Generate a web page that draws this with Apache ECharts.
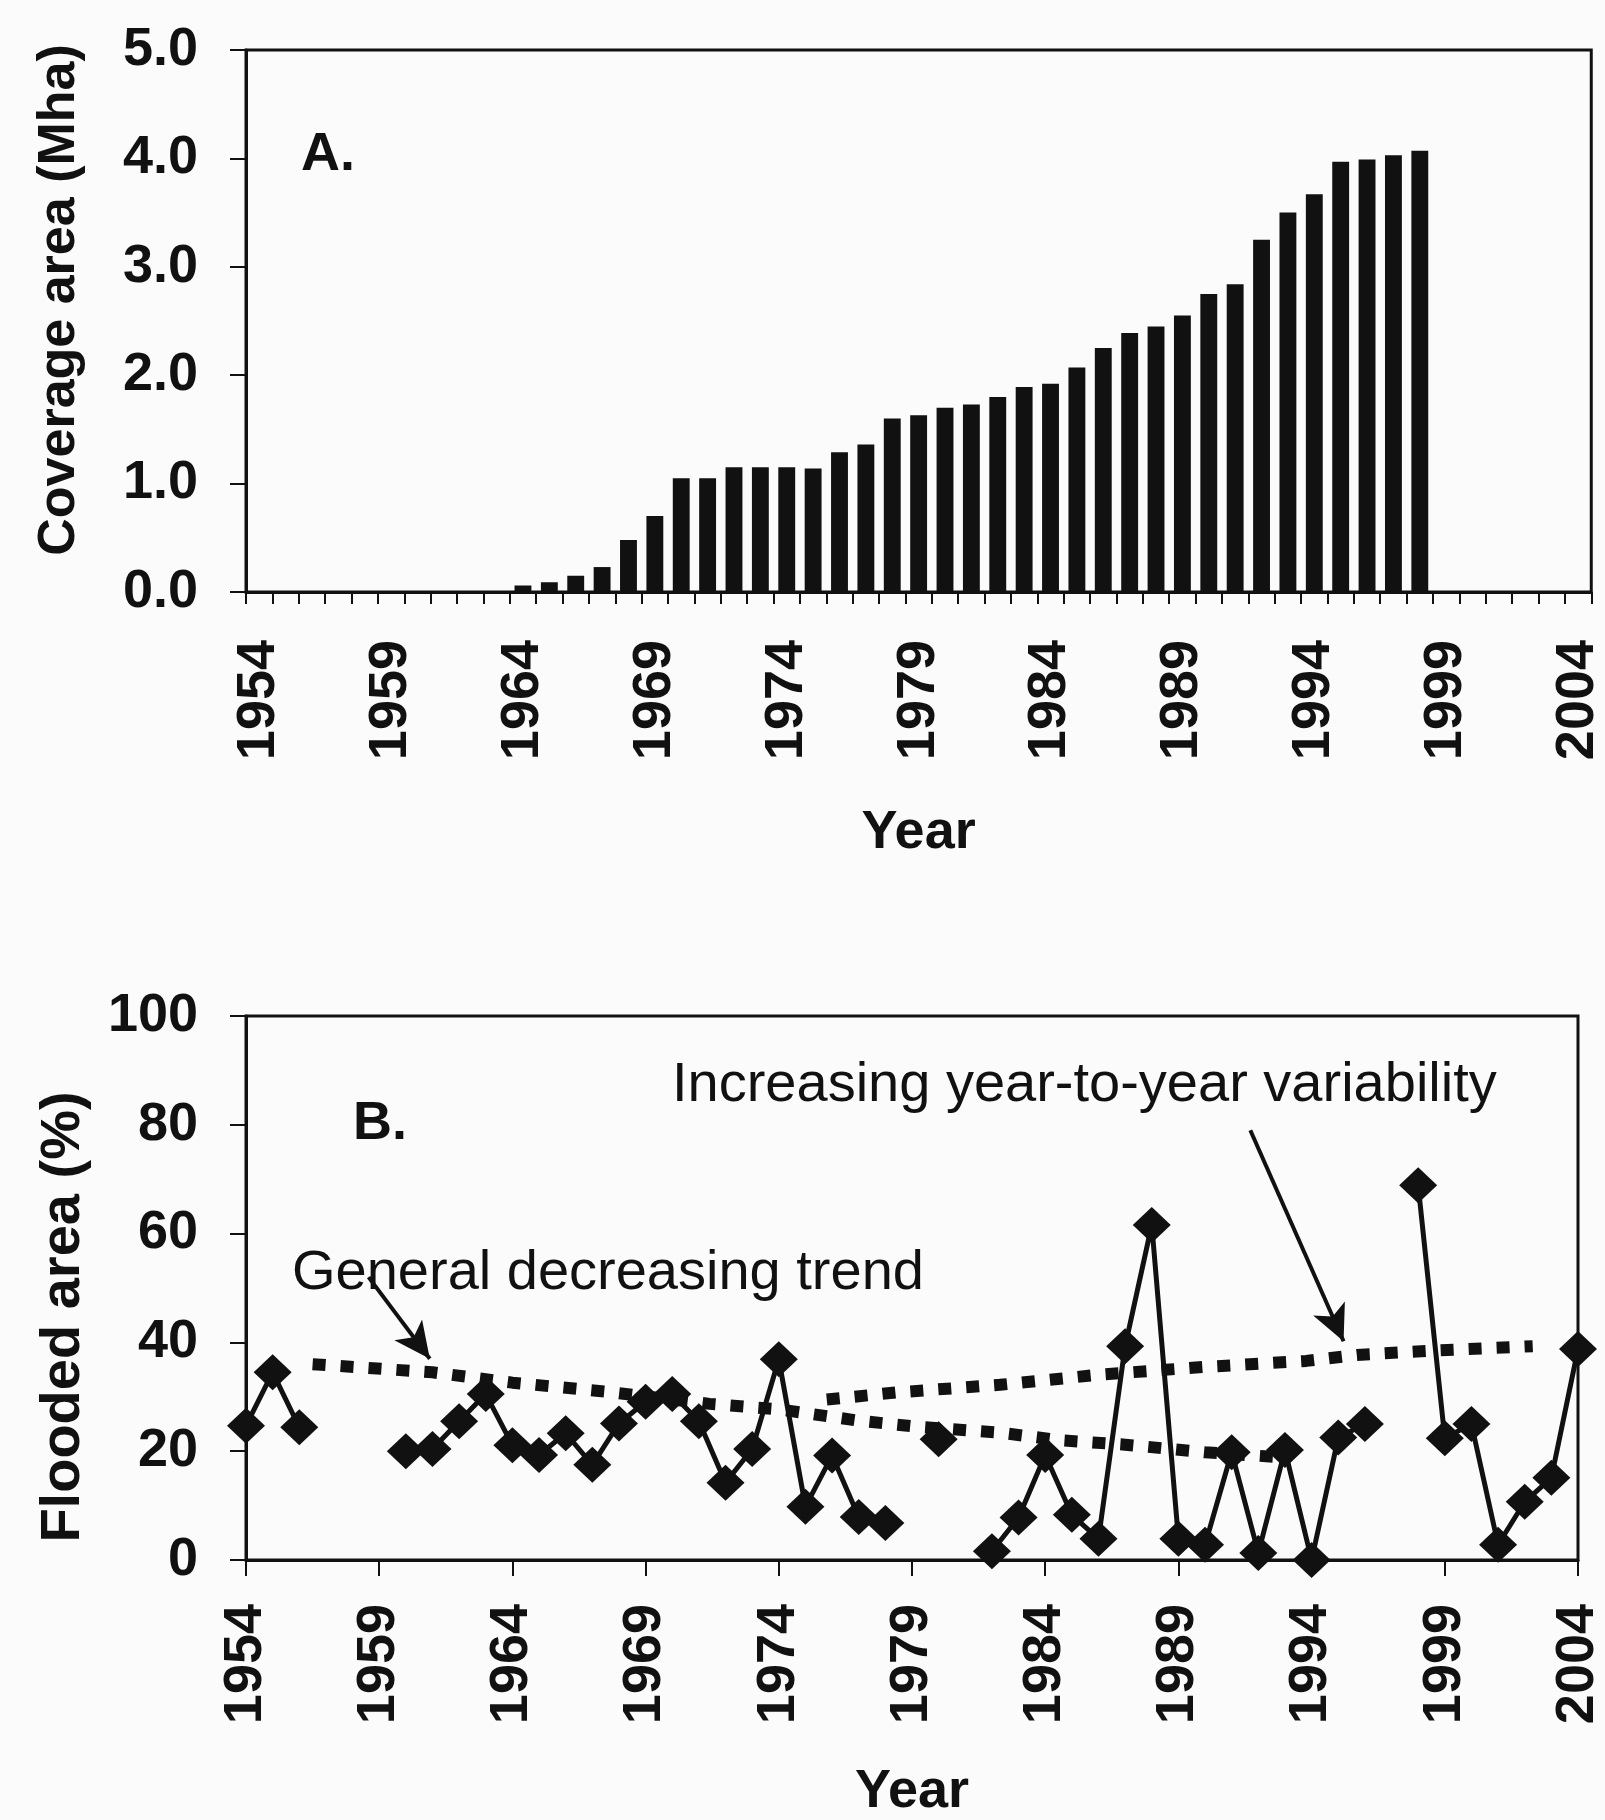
<!DOCTYPE html>
<html>
<head>
<meta charset="utf-8">
<script src="https://cdn.jsdelivr.net/npm/echarts@6/dist/echarts.min.js"></script>
<style>
html,body{margin:0;padding:0;background:#fbfbfb;}
#chart{width:1605px;height:1820px;}
</style>
</head>
<body>
<div id="chart"></div>
<script>
// ---- Panel A: coverage area (Mha), bar per year ----
const yearsA = ['1954','1955','1956','1957','1958','1959','1960','1961','1962','1963',
  '1964','1965','1966','1967','1968','1969','1970','1971','1972','1973',
  '1974','1975','1976','1977','1978','1979','1980','1981','1982','1983',
  '1984','1985','1986','1987','1988','1989','1990','1991','1992','1993',
  '1994','1995','1996','1997','1998','1999','2000','2001','2002','2003','2004'];
const coverage = [null,null,null,null,null,null,null,null,null,null,
  0.06,0.09,0.15,0.23,0.48,0.70,1.05,1.05,1.15,1.15,
  1.15,1.14,1.29,1.36,1.60,1.63,1.70,1.73,1.80,1.89,
  1.92,2.07,2.25,2.39,2.45,2.55,2.75,2.84,3.25,3.50,
  3.67,3.97,3.99,4.03,4.07,null,null,null,null,null,null];
const yTicksA = ['0.0','1.0','2.0','3.0','4.0','5.0'];

// ---- Panel B: flooded area (%) ----
const floodYears = [1954,1955,1956,1957,1958,1959,1960,1961,1962,1963,
  1964,1965,1966,1967,1968,1969,1970,1971,1972,1973,
  1974,1975,1976,1977,1978,1979,1980,1981,1982,1983,
  1984,1985,1986,1987,1988,1989,1990,1991,1992,1993,
  1994,1995,1996,1997,1998,1999,2000,2001,2002,2003,2004];
const floodValues = [24.7,34.5,24.4,null,null,null,20.0,20.4,25.5,30.5,
  21.1,19.3,23.3,17.5,25.1,29.1,30.5,25.5,14.2,20.4,
  36.9,9.8,19.2,7.9,6.8,null,22.2,null,1.6,7.8,
  19.3,8.3,3.9,39.3,61.6,3.9,2.8,19.8,1.3,20.2,
  0.0,22.5,25.0,null,68.9,22.4,25.0,2.8,10.7,15.1,38.8];

// trend lines (year, %)
const decTrendYears = [1956.5,1961,1964,1967.6,1969.5,1971.4,1974,1977,1979.2,1982.3,1984.6,1987,1990,1992.8];
const decTrendValues = [36.0,34.5,32.6,30.9,29.8,28.7,27.7,25.6,24.5,23.4,22.0,21.2,19.8,18.9];
const incTrendYears = [1975.8,1978.4,1982.3,1986.1,1990,1993.8,1995.7,1998.6,2002.3];
const incTrendValues = [29.5,30.8,32.2,34.1,35.5,36.6,37.7,38.5,39.3];

const ink = '#111';
const tickFont = {fontFamily:'Liberation Sans, Arial, sans-serif', fontWeight:'bold', fontSize:54, color:ink};

const pairs = (xs, ys) => xs.map((x,i) => [x, ys[i] === null ? '-' : ys[i]]);

const chart = echarts.init(document.getElementById('chart'), null, {renderer:'canvas'});
chart.setOption({
  backgroundColor:'#fbfbfb',
  animation:false,
  grid:[
    {left:246, top:50, width:1353, height:542, show:true, borderColor:ink, borderWidth:3, backgroundColor:'transparent'},
    {left:246, top:1016, width:1344, height:560, show:true, borderColor:ink, borderWidth:3, backgroundColor:'transparent'}
  ],
  xAxis:[
    {gridIndex:0, type:'category', data:yearsA, boundaryGap:true,
     axisLine:{lineStyle:{color:ink,width:3}},
     axisTick:{show:true, interval:0, length:12, lineStyle:{color:ink,width:2}},
     axisLabel:Object.assign({interval:4, rotate:90, margin:48}, tickFont),
     name:'Year', nameLocation:'middle', nameGap:214,
     nameTextStyle:{fontFamily:'Liberation Sans, Arial, sans-serif', fontWeight:'bold', fontSize:54, color:ink}
    },
    {gridIndex:1, type:'value', min:1954, max:2004, interval:5,
     splitLine:{show:false},
     axisLine:{lineStyle:{color:ink,width:3}},
     axisTick:{show:true, length:16, lineStyle:{color:ink,width:2}},
     axisLabel:Object.assign({rotate:90, margin:44, formatter:v=>String(v)}, tickFont),
     name:'Year', nameLocation:'middle', nameGap:205,
     nameTextStyle:{fontFamily:'Liberation Sans, Arial, sans-serif', fontWeight:'bold', fontSize:54, color:ink}
    }
  ],
  yAxis:[
    {gridIndex:0, type:'value', min:0, max:5, interval:1,
     splitLine:{show:false},
     axisLine:{show:true, lineStyle:{color:ink,width:3}},
     axisTick:{show:true, length:16, lineStyle:{color:ink,width:2}},
     axisLabel:Object.assign({margin:48, formatter:v=>yTicksA[Math.round(v)]}, tickFont)
    },
    {gridIndex:1, type:'value', min:0, max:100, interval:20,
     splitLine:{show:false},
     axisLine:{show:true, lineStyle:{color:ink,width:3}},
     axisTick:{show:true, length:16, lineStyle:{color:ink,width:2}},
     axisLabel:Object.assign({margin:48}, tickFont)
    }
  ],
  series:[
    {type:'bar', xAxisIndex:0, yAxisIndex:0, data:coverage, barWidth:'64%',
     itemStyle:{color:ink}, silent:true},
    {type:'line', xAxisIndex:1, yAxisIndex:1, data:pairs(decTrendYears, decTrendValues),
     showSymbol:false, symbol:'none', silent:true,
     lineStyle:{color:ink, width:12, type:[13,15], cap:'butt'}},
    {type:'line', xAxisIndex:1, yAxisIndex:1, data:pairs(incTrendYears, incTrendValues),
     showSymbol:false, symbol:'none', silent:true,
     lineStyle:{color:ink, width:12, type:[13,15], cap:'butt'}},
    {type:'line', xAxisIndex:1, yAxisIndex:1, data:pairs(floodYears, floodValues),
     connectNulls:false, symbol:'diamond', symbolSize:[38,36], showSymbol:true,
     itemStyle:{color:ink}, lineStyle:{color:ink, width:5}, silent:true,
     markLine:{silent:true, symbol:['none','arrow'], symbolSize:[26,36],
       label:{show:false},
       lineStyle:{color:ink, width:4, type:'solid'},
       data:[
         [{coord:[1958.6,52]},{coord:[1960.9,37.0]}],
         [{coord:[1991.7,79]},{coord:[1995.2,40.2]}]
       ]}
    }
  ],
  graphic:[
    {type:'text', left:301, top:155-27, style:{text:'A.', font:'bold 54px "Liberation Sans", Arial, sans-serif', fill:ink}},
    {type:'text', left:353, top:1124-27, style:{text:'B.', font:'bold 54px "Liberation Sans", Arial, sans-serif', fill:ink}},
    {type:'text', x:60, y:300, rotation:Math.PI/2,
     style:{text:'Coverage area (Mha)', font:'bold 52px "Liberation Sans", Arial, sans-serif', fill:ink, textAlign:'center', textVerticalAlign:'middle'}},
    {type:'text', x:64, y:1317, rotation:Math.PI/2,
     style:{text:'Flooded area (%)', font:'bold 56px "Liberation Sans", Arial, sans-serif', fill:ink, textAlign:'center', textVerticalAlign:'middle'}},
    {type:'text', x:292, y:1274,
     style:{text:'General decreasing trend', font:'56px "Liberation Sans", Arial, sans-serif', fill:ink, textAlign:'left', textVerticalAlign:'middle'}},
    {type:'text', x:672, y:1086,
     style:{text:'Increasing year-to-year variability', font:'56px "Liberation Sans", Arial, sans-serif', fill:ink, textAlign:'left', textVerticalAlign:'middle'}}
  ]
});
</script>
</body>
</html>
